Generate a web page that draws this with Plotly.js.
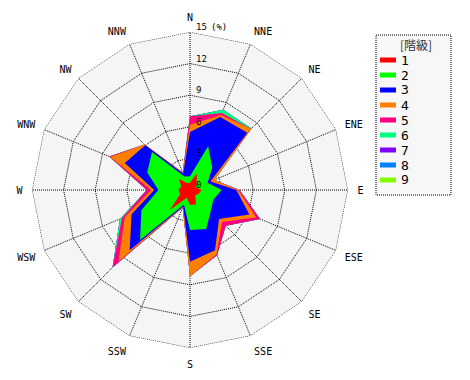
<!DOCTYPE html>
<html><head><meta charset="utf-8">
<script src="https://cdn.plot.ly/plotly-3.0.1.min.js"></script>
<style>html,body{margin:0;padding:0;background:#fff}#chart{width:470px;height:380px}</style>
</head><body><div id="chart"></div>
<script>
const directions = ['N','NNE','NE','ENE','E','ESE','SE','SSE','S','SSW','SW','WSW','W','WNW','NW','NNW'];
const classNames = ['1','2','3','4','5','6','7','8','9'];
const classColors = ['#ff0000','#00ff00','#0000ff','#ff8000','#ff0080','#00ff80','#8000ff','#0080ff','#80ff00'];
const radialTicks = [0,3,6,9,12,15];
// frequency (%) of each class per direction
const class1 = [0.7,1.7,0.9,0.6,1.1,0.9,0.7,1.5,1.4,0.8,2.7,1.0,1.1,0.9,1.5,0.7];
const class2 = [0.6,2.8,2.1,1.2,1.9,1.5,2.1,2.5,2.4,0.7,4.0,4.0,1.9,3.5,3.6,0.7];
const class3 = [4.2,3.0,4.7,0.3,1.4,3.7,1.1,2.2,3.0,0.2,1.4,1.0,0.4,2.3,0.9,0.3];
const class4 = [0.7,0.2,0.5,0.4,0.2,0.7,0.4,0.4,1.4,0.1,1.5,0.7,0.3,1.5,0.1,0.1];
const class5 = [0.8,0.2,0.0,0.0,0.1,0.4,0.5,0.1,0.0,0.0,0.8,0.3,0.4,0.1,0.0,0.0];
const class6 = [0.0,0.35,0.05,0.0,0.0,0.0,0.0,0.0,0.0,0.0,0.0,0.2,0.0,0.0,0.0,0.0];
const class7 = [0,0,0,0,0,0,0,0,0,0,0,0,0,0,0,0];
const class8 = [0,0,0,0,0,0,0,0,0,0,0,0,0,0,0,0];
const class9 = [0,0,0,0,0,0,0,0,0,0,0,0,0,0,0,0];
const classes = [class1,class2,class3,class4,class5,class6,class7,class8,class9];

// cumulative stacks
const cum = [];
classes.forEach((c,k)=>{
  cum.push(c.map((v,i)=> v + (k>0 ? cum[k-1][i] : 0)));
});

const rMax = radialTicks[radialTicks.length-1];
const traces = [];
for (let k = classes.length-1; k >= 0; k--) {
  traces.push({
    type:'scatterpolar', mode:'lines', name:classNames[k],
    r: cum[k].concat([cum[k][0]]),
    theta: directions.concat([directions[0]]),
    fill:'toself', fillcolor:classColors[k],
    line:{width:0, color:classColors[k]},
    hoverinfo:'skip', showlegend:false
  });
}
// outer dotted frame of the rose
traces.push({type:'scatterpolar', mode:'lines', r: directions.map(()=>rMax).concat([rMax]),
  theta: directions.concat([directions[0]]), line:{color:'#000', width:1, dash:'1px,1px'},
  hoverinfo:'skip', showlegend:false});

const W=470, H=380;
const CX=190, CY=190, R=158;
const px = x => x/W, py = y => 1 - y/H;
const shapes = [{type:'rect', xref:'paper', yref:'paper', x0:px(376), x1:px(451), y0:py(35), y1:py(195),
  line:{color:'#000', width:1, dash:'1px,1px'}, fillcolor:'#f7f7f7', layer:'below'}];
const annotations = [
  {xref:'paper', yref:'paper', x:px(416), y:py(44), text:'[階級]', showarrow:false, xanchor:'center', yanchor:'middle',
   font:{family:'Noto Sans CJK JP', size:12, color:'#333'}},
  {xref:'paper', yref:'paper', x:px(209), y:py(27), text:'(%)', showarrow:false, xanchor:'left', yanchor:'middle',
   font:{family:'DejaVu Sans Mono', size:9, color:'#000'}}
];
radialTicks.forEach(v=>{
  annotations.push({xref:'paper', yref:'paper', x:px(CX+4), y:py(CY - v*R/rMax - 5), text:String(v), showarrow:false,
    xanchor:'left', yanchor:'middle', font:{family:'DejaVu Sans Mono', size:9, color:'#000'}});
});
classNames.forEach((n,k)=>{
  const yc = 60 + 15*k;
  shapes.push({type:'rect', xref:'paper', yref:'paper', x0:px(380), x1:px(396), y0:py(yc-2.5), y1:py(yc+2.5),
    line:{width:0}, fillcolor:classColors[k]});
  annotations.push({xref:'paper', yref:'paper', x:px(399), y:py(yc), text:n, showarrow:false, xanchor:'left', yanchor:'middle',
    font:{family:'DejaVu Sans Mono', size:13, color:'#000'}});
});

const layout = {
  width:W, height:H, margin:{l:0,r:0,t:0,b:0}, paper_bgcolor:'#fff', showlegend:false,
  font:{family:'DejaVu Sans Mono', size:10, color:'#000'},
  polar:{
    domain:{x:[(CX-R)/W, (CX+R)/W], y:[(H-CY-R)/H, (H-CY+R)/H]},
    bgcolor:'#f5f5f5', gridshape:'linear',
    angularaxis:{type:'category', categoryarray:directions, direction:'clockwise', rotation:90,
      showline:false, gridcolor:'#000', griddash:'1px,1px', gridwidth:1,
      ticks:'outside', ticklen:7, tickcolor:'rgba(0,0,0,0)',
      tickfont:{family:'DejaVu Sans Mono', size:10, color:'#000'}},
    radialaxis:{range:[0,rMax], tickvals:radialTicks, angle:90, side:'clockwise', showline:false,
      gridcolor:'#000', griddash:'1px,1px', gridwidth:1, ticks:'', showticklabels:false}
  },
  shapes:shapes, annotations:annotations
};
Plotly.newPlot('chart', traces, layout, {staticPlot:true, displayModeBar:false});
</script></body></html>
